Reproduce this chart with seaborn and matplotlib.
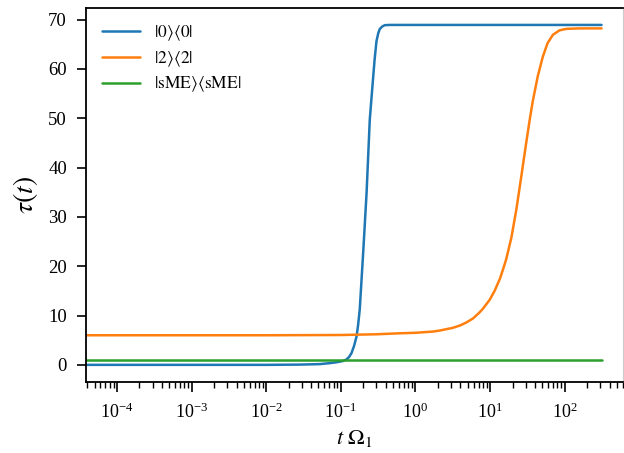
import numpy as np
import pandas as pd
import matplotlib
matplotlib.use("Agg")
import matplotlib.pyplot as plt
import seaborn as sns

# ---- data ----
t_blue = [1e-5, 1e-4, 1e-3, 1e-2, 0.028, 0.052, 0.071, 0.085, 0.097, 0.108, 0.119, 0.129,
          0.139, 0.150, 0.162, 0.170, 0.179, 0.199, 0.221, 0.244, 0.265, 0.283, 0.300,
          0.318, 0.333, 0.360, 0.388, 0.45, 1.0, 10.0, 100.0, 312.0]
tau_blue = [0.0, 0.0, 0.0, 0.0, 0.05, 0.15, 0.35, 0.5, 0.65, 0.8, 1.1, 1.6,
            2.4, 3.8, 5.7, 8.0, 11.2, 22.7, 34.8, 49.7, 56.5, 61.8, 65.6,
            67.3, 68.1, 68.6, 68.85, 68.9, 68.9, 68.9, 68.9, 68.9]

t_orange = [1e-5, 1e-4, 1e-3, 1e-2, 0.1, 0.3, 0.617, 1.0, 1.72, 2.11, 3.16, 3.98, 4.82,
            5.90, 7.08, 7.94, 9.89, 11.5, 13.5, 15.1, 16.5, 19.3, 22.5, 26.2, 30.2,
            33.9, 37.5, 43.7, 51.0, 58.9, 69.5, 85.1, 105.0, 160.0, 312.0]
tau_orange = [6.0, 6.0, 6.0, 6.0, 6.05, 6.2, 6.4, 6.5, 6.75, 6.95, 7.5, 8.0, 8.6,
              9.4, 10.5, 11.3, 13.2, 15.0, 17.4, 19.6, 21.5, 25.8, 31.5, 38.2, 44.6,
              49.6, 53.6, 58.6, 62.5, 65.2, 66.9, 67.8, 68.1, 68.2, 68.2]

t_green = [1e-5, 1e-3, 1e-1, 10.0, 312.0]
tau_green = [1.0, 1.0, 1.0, 1.0, 1.0]

labels = [r"$|0\rangle\langle 0|$", r"$|2\rangle\langle 2|$",
          r"$|\mathrm{sME}\rangle\langle \mathrm{sME}|$"]

x_ticks = [1e-4, 1e-3, 1e-2, 1e-1, 1e0, 1e1, 1e2]
y_ticks = [0, 10, 20, 30, 40, 50, 60, 70]

df = pd.concat([
    pd.DataFrame({"t": t_blue, "tau": tau_blue, "state": labels[0]}),
    pd.DataFrame({"t": t_orange, "tau": tau_orange, "state": labels[1]}),
    pd.DataFrame({"t": t_green, "tau": tau_green, "state": labels[2]}),
], ignore_index=True)

sns.set_style("ticks")
plt.rcParams["font.family"] = ["Liberation Serif", "DejaVu Serif"]
plt.rcParams["mathtext.fontset"] = "stix"
plt.rcParams["text.color"] = "black"
plt.rcParams["axes.labelcolor"] = "black"
plt.rcParams["xtick.color"] = "black"
plt.rcParams["ytick.color"] = "black"

fig = plt.figure(figsize=(6.24, 4.53), dpi=100)
ax = fig.add_axes([0.138, 0.157, 0.860, 0.825])

palette = ["#1f77b4", "#ff7f0e", "#2ca02c"]
sns.lineplot(data=df, x="t", y="tau", hue="state", palette=palette,
             linewidth=1.8, ax=ax, sort=True, estimator=None)

ax.set_xscale("log")
ax.set_xlim(3.85e-5, 600)
ax.set_ylim(-3.45, 72.3)
ax.set_yticks(y_ticks)
ax.xaxis.set_major_locator(matplotlib.ticker.FixedLocator(x_ticks))
ax.xaxis.set_major_formatter(matplotlib.ticker.LogFormatterSciNotation())
ax.xaxis.set_minor_locator(matplotlib.ticker.LogLocator(base=10, subs=np.arange(2, 10), numticks=20))
ax.xaxis.set_minor_formatter(matplotlib.ticker.NullFormatter())

for s in ["left", "bottom", "top"]:
    ax.spines[s].set_linewidth(1.3)
    ax.spines[s].set_color("black")
ax.spines["right"].set_color("#cccccc")
ax.spines["right"].set_linewidth(0.8)

ax.tick_params(axis="y", which="major", length=6.3, width=1.2, labelsize=13.5,
               direction="out", right=False, pad=7.5)
ax.tick_params(axis="x", which="major", length=7, width=1.2, labelsize=13,
               direction="out", top=False, pad=8)
ax.tick_params(axis="x", which="minor", length=4, width=1.0, top=False)

ax.set_xlabel(r"$t\ \Omega_1$", fontsize=16, labelpad=4)
ax.set_ylabel(r"$\tau(t)$", fontsize=20, labelpad=6)

leg = ax.legend(loc="upper left", frameon=False, fontsize=12.5, handlelength=2.2,
                borderaxespad=0.5, labelspacing=0.35, handletextpad=0.8)

fig.savefig("out.png", dpi=100)
